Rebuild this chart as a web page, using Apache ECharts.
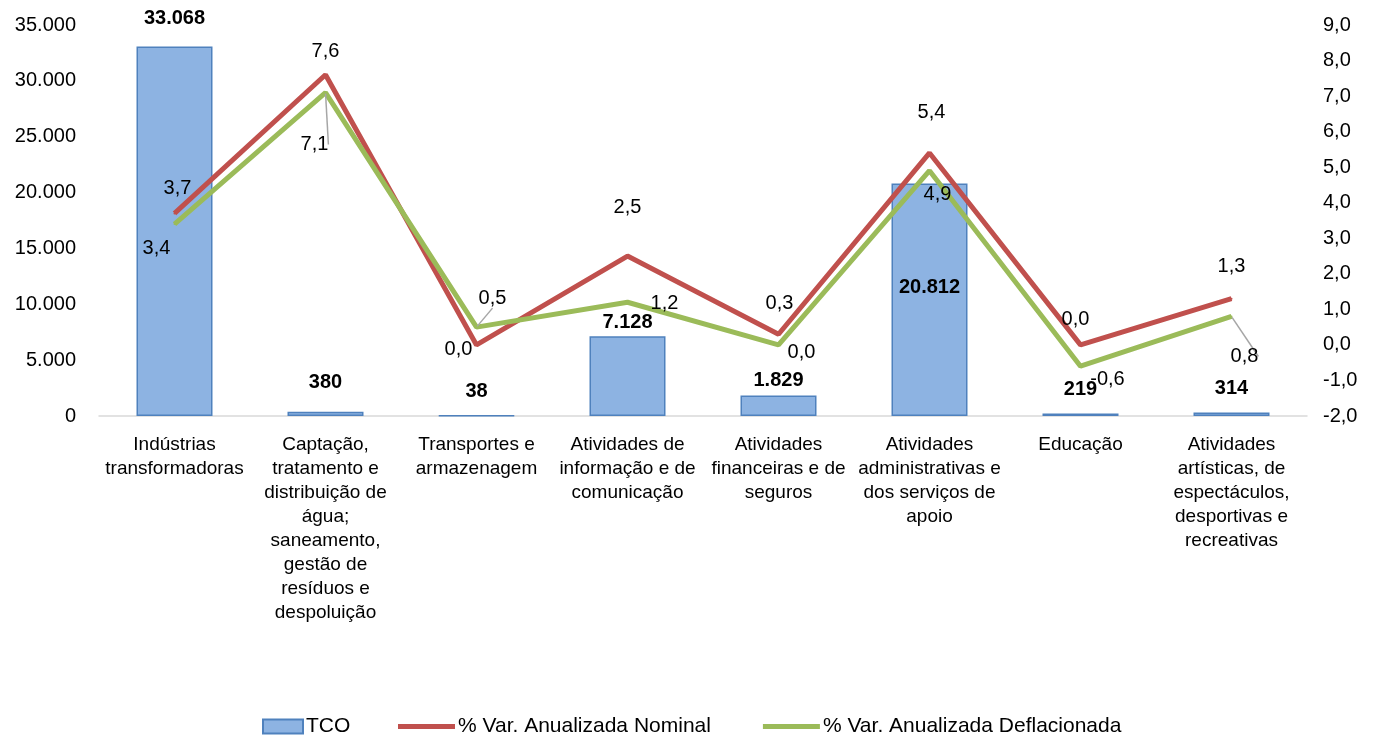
<!DOCTYPE html>
<html>
<head>
<meta charset="utf-8">
<script src="https://cdn.jsdelivr.net/npm/echarts@6/dist/echarts.min.js"></script>
<style>html,body{margin:0;padding:0;background:#fff}#c{width:1379px;height:740px}</style>
</head>
<body>
<div id="c"></div>
<script>
var categories = [
  "Indústrias\ntransformadoras",
  "Captação,\ntratamento e\ndistribuição de\nágua;\nsaneamento,\ngestão de\nresíduos e\ndespoluição",
  "Transportes e\narmazenagem",
  "Atividades de\ninformação e de\ncomunicação",
  "Atividades\nfinanceiras e de\nseguros",
  "Atividades\nadministrativas e\ndos serviços de\napoio",
  "Educação",
  "Atividades\nartísticas, de\nespectáculos,\ndesportivas e\nrecreativas"
];
var tco = [33068, 380, 38, 7128, 1829, 20812, 219, 314];
var nominal = [3.7, 7.6, 0.0, 2.5, 0.3, 5.4, 0.0, 1.3];
var deflacionada = [3.4, 7.1, 0.5, 1.2, 0.0, 4.9, -0.6, 0.8];
var leftTicks = {min: 0, max: 35000, interval: 5000};
var rightTicks = {min: -2, max: 9, interval: 1};

// label placement (styling, kept separate from data)
var tcoLabelDist = [18, 19, 14, 4, 5, 'inside', 14, 14];
var nominalOffsets = [[3,-25],[0,-23],[-18,5],[0,-49],[1,-31],[2,-40],[-5,-25],[0,-32]];
var deflOffsets = [[-18,24],[-11,52],[16,-29],[37,1],[23,8],[8,24],[27,13],[13,40]];
var deflLeader = [false, true, true, false, false, false, false, true];

var FONT = '"Liberation Sans", Arial, sans-serif';
function thousands(v){ return String(Math.round(v)).replace(/\B(?=(\d{3})+(?!\d))/g, '.'); }
function dec1(v){ return Number(v).toFixed(1).replace('.', ','); }

var barData = tco.map(function(v, i){
  var d = tcoLabelDist[i];
  var lab = d === 'inside' ? {position: 'inside', offset: [0, -12]} : {position: 'top', distance: d};
  return {value: v, label: lab};
});
function lineData(vals, offs, leader){
  return vals.map(function(v, i){
    var item = {value: v, label: {position: 'inside', offset: offs[i]}};
    if (leader && leader[i]) item.labelLine = {show: true, length2: 0, lineStyle: {color: '#A6A6A6', width: 1.5}};
    return item;
  });
}

var chart = echarts.init(document.getElementById('c'), null, {renderer: 'canvas'});
chart.setOption({
  animation: false,
  backgroundColor: '#fff',
  textStyle: {fontFamily: FONT},
  grid: {left: 99, right: 72, top: 25, bottom: 324, containLabel: false},
  legend: [
    {left: 257, top: 711, itemWidth: 40, itemHeight: 14, itemGap: 10,
     data: [{name: 'TCO', icon: 'rect'}],
     textStyle: {fontSize: 21, color: '#000', fontFamily: FONT, padding: [0,0,0,-2]}},
    {left: 393, top: 711, itemWidth: 57, itemHeight: 5, itemGap: 52,
     data: [{name: '% Var. Anualizada Nominal', icon: 'rect'}, {name: '% Var. Anualizada Deflacionada', icon: 'rect'}],
     textStyle: {fontSize: 21, color: '#000', fontFamily: FONT, padding: [0,0,0,-2]}}
  ],
  xAxis: {
    type: 'category',
    data: categories,
    axisLine: {show: true, lineStyle: {color: '#D9D9D9', width: 1.5}},
    axisTick: {show: false},
    axisLabel: {interval: 0, color: '#000', fontSize: 19, lineHeight: 24, margin: 17, fontFamily: FONT}
  },
  yAxis: [
    {type: 'value', min: leftTicks.min, max: leftTicks.max, interval: leftTicks.interval,
     axisLine: {show: false}, axisTick: {show: false}, splitLine: {show: false},
     axisLabel: {color: '#000', fontSize: 20, margin: 23, formatter: thousands, fontFamily: FONT}},
    {type: 'value', min: rightTicks.min, max: rightTicks.max, interval: rightTicks.interval,
     axisLine: {show: false}, axisTick: {show: false}, splitLine: {show: false},
     axisLabel: {color: '#000', fontSize: 20, margin: 16, formatter: dec1, fontFamily: FONT}}
  ],
  series: [
    {name: 'TCO', type: 'bar', yAxisIndex: 0, barWidth: 76, data: barData,
     itemStyle: {color: '#8DB3E2', borderColor: '#4F81BD', borderWidth: 1.5},
     label: {show: true, color: '#000', fontSize: 20, fontWeight: 'bold', fontFamily: FONT, formatter: function(p){ return thousands(p.value); }},
     z: 1},
    {name: '% Var. Anualizada Nominal', type: 'line', yAxisIndex: 1, data: lineData(nominal, nominalOffsets),
     symbol: 'circle', symbolSize: 2, showSymbol: true,
     itemStyle: {color: '#C0504D'}, lineStyle: {color: '#C0504D', width: 5},
     label: {show: true, color: '#000', fontSize: 20, fontFamily: FONT, formatter: function(p){ return dec1(p.value); }},
     z: 3},
    {name: '% Var. Anualizada Deflacionada', type: 'line', yAxisIndex: 1, data: lineData(deflacionada, deflOffsets, deflLeader),
     symbol: 'circle', symbolSize: 2, showSymbol: true,
     itemStyle: {color: '#9BBB59'}, lineStyle: {color: '#9BBB59', width: 5},
     label: {show: true, color: '#000', fontSize: 20, fontFamily: FONT, formatter: function(p){ return dec1(p.value); }},
     z: 3}
  ]
});
</script>
</body>
</html>
